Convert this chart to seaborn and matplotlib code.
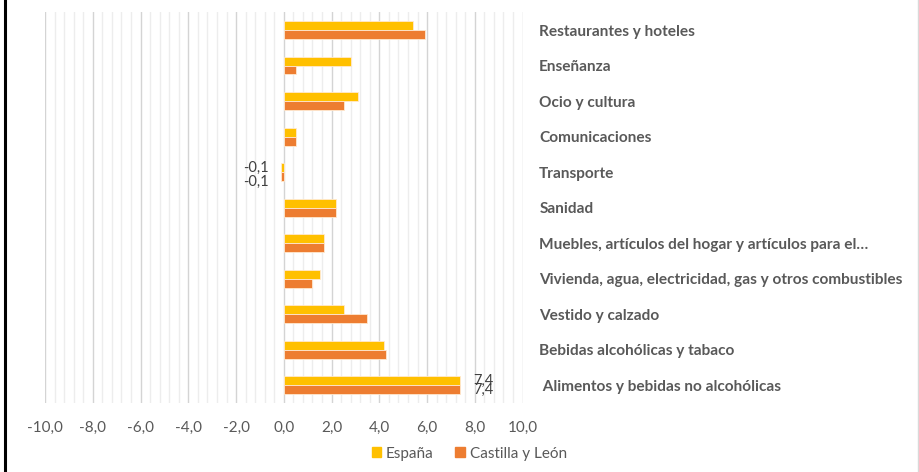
import seaborn as sns
import matplotlib.pyplot as plt
import matplotlib.lines as mlines
import matplotlib.patches as mpatches
import pandas as pd

# Datos (variación por grupo ECOIPF, orden de arriba a abajo)
categorias = [
    "Restaurantes y hoteles",
    "Enseñanza",
    "Ocio y cultura",
    "Comunicaciones",
    "Transporte",
    "Sanidad",
    "Muebles, artículos del hogar y artículos para el…",
    "Vivienda, agua, electricidad, gas y otros combustibles",
    "Vestido y calzado",
    "Bebidas alcohólicas y tabaco",
    " Alimentos y bebidas no alcohólicas",
]
espana = [5.4, 2.8, 3.1, 0.5, -0.1, 2.2, 1.7, 1.5, 2.5, 4.2, 7.4]
castilla_leon = [5.9, 0.5, 2.5, 0.5, -0.1, 2.2, 1.7, 1.2, 3.5, 4.3, 7.4]
series = ["España", "Castilla y León"]
colores = ["#FFC000", "#ED7D31"]
# categorías con etiqueta de dato visible
con_etiqueta = ["Transporte", " Alimentos y bebidas no alcohólicas"]

df = pd.DataFrame({
    "categoria": categorias * 2,
    "valor": espana + castilla_leon,
    "serie": [series[0]] * len(categorias) + [series[1]] * len(categorias),
})

plt.rcParams["font.family"] = ["Lato", "DejaVu Sans"]
fig = plt.figure(figsize=(9.2, 4.72), dpi=100)
ax = fig.add_axes([0.049, 0.146, 0.519, 0.828])

sns.barplot(data=df, x="valor", y="categoria", hue="serie", orient="h",
            order=categorias, hue_order=series, palette=colores, saturation=1,
            width=0.5, edgecolor="#FFE9D0", linewidth=0.6, legend=False, ax=ax)

ax.set_xlim(-10, 10)
ax.set_ylim(len(categorias) - 0.5, -0.5)
ax.set_xticks([x for x in range(-10, 11, 2)])
ax.set_xticks([x * 0.4 for x in range(-25, 26)], minor=True)
ax.set_xticklabels([f"{x:.1f}".replace(".", ",") for x in range(-10, 11, 2)])
ax.grid(axis="x", which="major", color="#D4D4D4", linewidth=1.0)
ax.grid(axis="x", which="minor", color="#EDEDED", linewidth=1.0)
ax.grid(axis="y", visible=False)
ax.set_axisbelow(True)
for s in ax.spines.values():
    s.set_visible(False)

ax.tick_params(axis="x", which="both", length=0, pad=13, labelsize=11,
               labelcolor="#595959")
ax.yaxis.tick_right()
ax.tick_params(axis="y", length=0, pad=12, labelsize=11.1, labelcolor="#595959")
for t in ax.get_yticklabels():
    t.set_fontweight("bold")
ax.set_xlabel("")
ax.set_ylabel("")

# etiquetas de datos solo en algunas barras
for i, (cont, vals) in enumerate(zip(ax.containers, [espana, castilla_leon])):
    labs = [f"{v:.1f}".replace(".", ",") if c in con_etiqueta else ""
            for c, v in zip(categorias, vals)]
    txts = ax.bar_label(cont, labels=labs, padding=9, fontsize=10.5, color="#404040")
    if i == 1:
        # la etiqueta negativa de Castilla y León queda algo más abajo
        t = txts[categorias.index("Transporte")]
        x0, y0 = t.xyann
        t.xyann = (x0, y0 - 4)

handles = [mpatches.Patch(color=c, label=s) for c, s in zip(colores, series)]
fig.legend(handles=handles, loc="lower center", bbox_to_anchor=(0.51, -0.005),
           ncol=2, frameon=False, fontsize=11, handlelength=0.65,
           handleheight=0.65, handletextpad=0.3, columnspacing=1.4,
           labelcolor="#595959")

# marco del gráfico
fig.add_artist(mlines.Line2D([0.0055, 0.0055], [0, 1], color="black", linewidth=2.2))
fig.add_artist(mlines.Line2D([0.9975, 0.9975], [0, 1], color="#D9D9D9", linewidth=1))

fig.savefig("out.png", dpi=100, facecolor="white")
